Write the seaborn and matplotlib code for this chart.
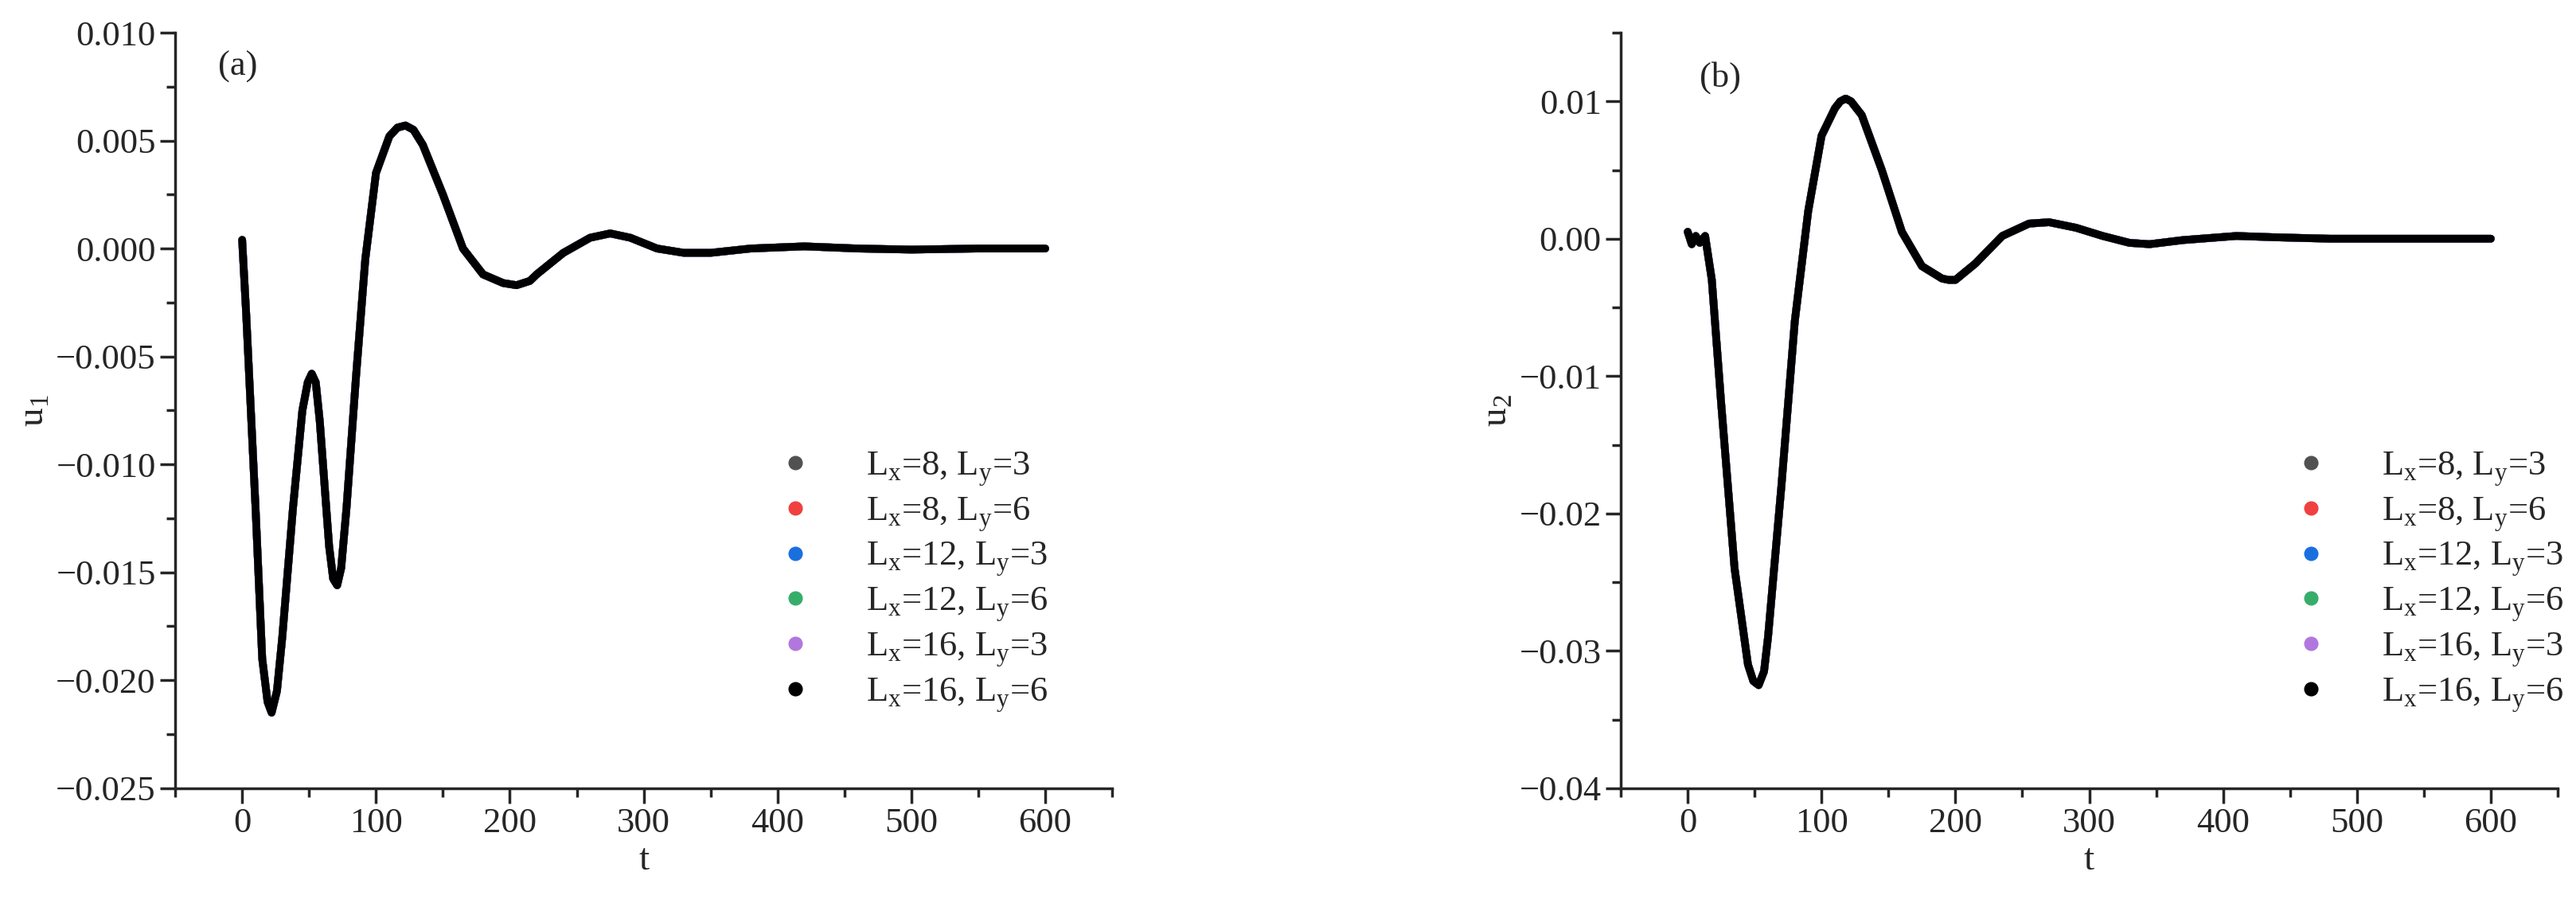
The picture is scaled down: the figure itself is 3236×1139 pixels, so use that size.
import numpy as np
import pandas as pd
import seaborn as sns
import matplotlib.pyplot as plt
from matplotlib.ticker import MultipleLocator, FuncFormatter
from matplotlib.lines import Line2D

# values (all six cases overlap)
labels = [r"L$_\mathrm{x}$=8, L$_\mathrm{y}$=3", r"L$_\mathrm{x}$=8, L$_\mathrm{y}$=6",
          r"L$_\mathrm{x}$=12, L$_\mathrm{y}$=3", r"L$_\mathrm{x}$=12, L$_\mathrm{y}$=6",
          r"L$_\mathrm{x}$=16, L$_\mathrm{y}$=3", r"L$_\mathrm{x}$=16, L$_\mathrm{y}$=6"]
colors = ["#515151", "#f04040", "#1a6fdf", "#37ad6b", "#b177de", "#000000"]

t1 = [0, 3, 10, 15, 19, 22, 26, 30, 38, 45, 49, 52, 55, 58, 65, 68, 71, 74, 78, 85, 92, 100,
      110, 116, 122, 128, 135, 150, 165, 180, 195, 205, 215, 220, 240, 260, 275, 290, 310,
      330, 350, 380, 420, 460, 500, 550, 600]
u1 = [0.0004, -0.003, -0.012, -0.019, -0.0210, -0.0215, -0.0205, -0.018, -0.012, -0.0075,
      -0.0062, -0.0058, -0.0062, -0.008, -0.0138, -0.0153, -0.0156, -0.0148, -0.012, -0.006,
      -0.0005, 0.0035, 0.0052, 0.0056, 0.0057, 0.0055, 0.0048, 0.0025, 0.0000, -0.0012,
      -0.0016, -0.0017, -0.0015, -0.0012, -0.0002, 0.0005, 0.0007, 0.0005, 0.0000,
      -0.0002, -0.0002, 0.0, 0.0001, 0.0, -0.00005, 0.0, 0.0]

t2 = [0, 3, 6, 9, 13, 18, 25, 35, 45, 49, 53, 57, 60, 70, 80, 90, 100, 110, 114, 118, 122,
      130, 145, 160, 175, 190, 195, 200, 215, 235, 255, 270, 290, 310, 330, 345, 370, 410,
      440, 480, 600]
u2 = [0.0005, -0.0004, 0.0002, -0.0003, 0.0002, -0.003, -0.012, -0.024, -0.031, -0.0322,
      -0.0325, -0.0315, -0.029, -0.018, -0.006, 0.002, 0.0075, 0.0095, 0.0100, 0.0102,
      0.0100, 0.009, 0.005, 0.0005, -0.002, -0.0029, -0.0030, -0.003, -0.0018, 0.0002,
      0.0011, 0.0012, 0.0008, 0.0002, -0.0003, -0.0004, -0.0001, 0.0002, 0.0001, 0.0, 0.0]

sns.set_style("ticks")
plt.rcParams['font.family'] = ['Liberation Serif', 'DejaVu Serif']
plt.rcParams['mathtext.fontset'] = 'custom'
plt.rcParams['mathtext.rm'] = 'Liberation Serif'
plt.rcParams['axes.unicode_minus'] = True

fig = plt.figure(figsize=(32.37, 11.39), dpi=100)
ax1 = fig.add_axes([0.068, 0.131, 0.3636, 0.833])
ax2 = fig.add_axes([0.629, 0.131, 0.3636, 0.833])


def tickfmt(fmt):
    def f(v, p):
        s = fmt % v
        if float(s) == 0:
            s = fmt % 0.0
        return s.replace("-", "\u2212")
    return FuncFormatter(f)


def panel(ax, t, u, ylab, ylim, major, minor, fmt, tag, tagpos, legx):
    for lab, c in zip(labels, colors):
        df = pd.DataFrame({"t": t, "u": u})
        sns.lineplot(data=df, x="t", y="u", ax=ax, color=c, linewidth=7,
                     solid_joinstyle="round", solid_capstyle="round")
    ax.set_xlim(-50, 650)
    ax.set_ylim(*ylim)
    ax.xaxis.set_major_locator(MultipleLocator(100))
    ax.xaxis.set_minor_locator(MultipleLocator(50))
    ax.yaxis.set_major_locator(MultipleLocator(major))
    ax.yaxis.set_minor_locator(MultipleLocator(minor))
    ax.yaxis.set_major_formatter(tickfmt(fmt))
    for s in ["top", "right"]:
        ax.spines[s].set_visible(False)
    for s in ["left", "bottom"]:
        ax.spines[s].set_linewidth(2.5)
    ax.tick_params(which="major", length=14, width=2.5, labelsize=32, direction="out")
    ax.tick_params(which="minor", length=8, width=2.5, direction="out")
    ax.set_xlabel("t", fontsize=34)
    ax.set_ylabel(ylab, fontsize=34)
    ax.text(tagpos[0], tagpos[1], tag, transform=ax.transAxes, fontsize=32, va="center")
    handles = [Line2D([], [], linestyle="none", marker="o", markersize=12, color=c)
               for c in colors]
    ax.legend(handles, labels, loc="upper left", bbox_to_anchor=(legx, 0.49),
              frameon=False, fontsize=32, handletextpad=1.0, labelspacing=0.2)


panel(ax1, t1, u1, r"u$_\mathrm{1}$", (-0.025, 0.010), 0.005, 0.0025, "%.3f", "(a)",
      (0.046, 0.955), 0.59)
panel(ax2, t2, u2, r"u$_\mathrm{2}$", (-0.04, 0.015), 0.01, 0.005, "%.2f", "(b)",
      (0.084, 0.94), 0.665)

fig.savefig("out.png", dpi=100)
